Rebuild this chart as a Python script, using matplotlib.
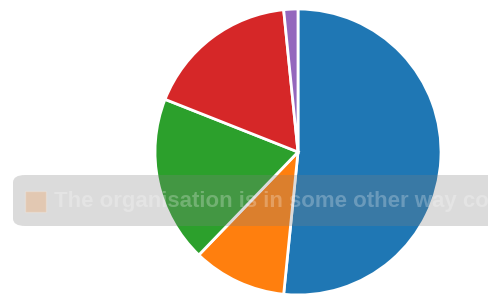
import matplotlib.pyplot as plt
from matplotlib.patches import FancyBboxPatch

# slice shares (percent), clockwise from the top
labels = ["A", "B", "C", "D", "E"]
values = [51.6, 10.6, 18.8, 17.4, 1.6]
colors = ["#1f77b4", "#ff7f0e", "#2ca02c", "#d62728", "#9467bd"]
tooltip_text = "The organisation is in some other way controlled by the government"

W, H = 489, 295
fig = plt.figure(figsize=(W / 100, H / 100), dpi=100)

# pie centred at (298, 152) px, radius 143 px
cx, cy, r = 298, 152, 143
ax = fig.add_axes([(cx - r) / W, (H - cy - r) / H, 2 * r / W, 2 * r / H])
ax.pie(values, colors=colors, startangle=90, counterclock=False,
       wedgeprops=dict(edgecolor="white", linewidth=2))
ax.set_aspect("auto")
ax.set_xlim(-1, 1)
ax.set_ylim(-1, 1)
ax.axis("off")

# faded tooltip over the chart
box = FancyBboxPatch((13 / W, (H - 226) / H), 500 / W, 51 / H,
                     boxstyle="round,pad=0,rounding_size=0.025",
                     transform=fig.transFigure, facecolor="#808080", alpha=0.28,
                     edgecolor="none")
fig.patches.append(box)
sw = FancyBboxPatch((25 / W, (H - 212) / H), 21 / W, 21 / H,
                    boxstyle="square,pad=0", transform=fig.transFigure,
                    facecolor="#ff7f0e", alpha=0.2, edgecolor="white", linewidth=1)
fig.patches.append(sw)
fig.text(54 / W, (H - 207) / H, tooltip_text, fontsize=16, fontweight="bold",
         family="Liberation Sans", color="white", alpha=0.25, va="baseline", ha="left")

fig.savefig("out.png", dpi=100)
